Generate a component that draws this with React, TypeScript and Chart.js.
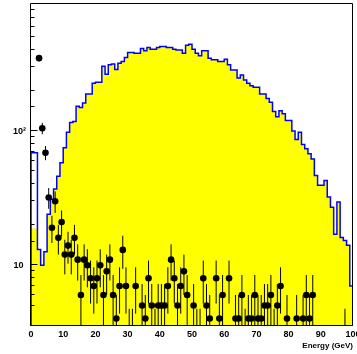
import React, { useEffect, useRef } from "react";
import { Chart, registerables } from "chart.js";

Chart.register(...registerables);

// ---- axis ranges ----
const X_MIN = 0;
const X_MAX = 100;
const BIN_WIDTH = 1;
const Y_MIN = 3.52;
const Y_MAX = 887;
const X_TITLE = "Energy (GeV)";

// ---- simulated spectrum (blue outline), one value per 1 GeV bin ----
const simulated = [
  69, 69, 13.1, 10, 12.6, 24, 31, 37, 46, 58,
  75, 98, 116, 118, 153, 150, 162, 189, 189, 227,
  231, 231, 305, 266, 313, 316, 288, 321, 331, 354,
  386, 386, 381, 381, 413, 397, 420, 408, 408, 420,
  427, 427, 420, 420, 408, 402, 402, 380, 437, 445,
  408, 381, 364, 397, 397, 350, 340, 340, 330, 330,
  344, 312, 285, 285, 249, 262, 240, 227, 218, 212,
  212, 189, 189, 175, 164, 140, 128, 142, 135, 120,
  120, 100, 86.5, 98, 79.4, 73.8, 67.7, 62, 46.7, 39.4,
  39.4, 42.9, 32.2, 27.1, 17, 29.6, 16.1, 15.3, 14.1, 7,
];

// ---- filled (yellow) spectrum: differs from the outline in the first bins ----
const filledFirstBins = [18.8, 18.8];

// ---- measured counts (black points, sqrt(N) errors); null = empty bin ----
const measured = [
  null, null, 350, 105, 69, 32, 19, 30, 16, 21,
  12, 14, 12, 16, 11, 6, 11, 10, 8, 7,
  8, 10, 6, 9, 11, 6, 4, 7, 13, 7,
  3, 3, 7, null, 5, 4, 8, 5, 3, 5,
  5, 5, 7, 11, 8, 5, 7, 9, 6, null,
  5, 3, 3, 8, 5, 4, null, 8, 4, 6,
  null, 8, null, 4, 4, 6, 3, 4, 4, 6,
  4, 4, 5, 5, 6, 3, 5, 7, null, 4,
  null, null, 4, null, 4, 6, 4, 6, null, null,
  null, null, null, null, null, null, null, 3, null, null,
];

const FLOOR = 1; // below the axis minimum, used to close the histogram outline

function stepPoints(values: number[]) {
  const pts: { x: number; y: number }[] = [{ x: X_MIN, y: FLOOR }];
  values.forEach((v, i) => pts.push({ x: X_MIN + i * BIN_WIDTH, y: v }));
  const end = X_MIN + values.length * BIN_WIDTH;
  pts.push({ x: end, y: values[values.length - 1] });
  pts.push({ x: end, y: FLOOR });
  return pts;
}

const FONT = "'Liberation Sans', Arial, Helvetica, sans-serif";

const rootStyle = {
  id: "rootStyle",
  afterDatasetsDraw(chart: any) {
    const { ctx, chartArea: a, scales } = chart;
    const xs = scales.x;
    const ys = scales.y;
    ctx.save();
    ctx.beginPath();
    ctx.rect(a.left, a.top, a.right - a.left, a.bottom - a.top);
    ctx.clip();
    ctx.strokeStyle = "#000";
    ctx.lineWidth = 1;
    measured.forEach((n, i) => {
      if (n == null) return;
      const e = Math.sqrt(n);
      const px = xs.getPixelForValue(X_MIN + (i + 0.5) * BIN_WIDTH);
      const top = ys.getPixelForValue(n + e);
      const lo = n - e > 0 ? ys.getPixelForValue(n - e) : a.bottom + 5;
      ctx.beginPath();
      ctx.moveTo(px, top);
      ctx.lineTo(px, lo);
      ctx.stroke();
    });
    ctx.restore();
  },
  afterDraw(chart: any) {
    const { ctx, chartArea: a, scales } = chart;
    const ys = scales.y;
    ctx.save();
    ctx.strokeStyle = "#000";
    ctx.lineWidth = 1;
    const L = Math.round(a.left) - 0.5;
    const T = Math.round(a.top) - 0.5;
    const B = Math.round(a.bottom) - 0.5;
    const R = Math.round(a.right) - 0.5;
    ctx.beginPath();
    ctx.moveTo(L, B);
    ctx.lineTo(L, T);
    ctx.lineTo(R, T);
    ctx.lineTo(R, B);
    ctx.lineTo(L, B);
    ctx.stroke();
    // y tick marks (inside the frame)
    ys.ticks.forEach((t: any) => {
      const v = t.value;
      const lg = Math.log10(v);
      const major = Math.abs(lg - Math.round(lg)) < 1e-6;
      const py = Math.round(ys.getPixelForValue(v)) - 0.5;
      if (py < a.top || py > a.bottom) return;
      ctx.beginPath();
      ctx.moveTo(L, py);
      ctx.lineTo(L + (major ? 7 : 4), py);
      ctx.stroke();
    });
    ctx.restore();
  },
};

export default function App() {
  const ref = useRef<HTMLCanvasElement | null>(null);

  useEffect(() => {
    if (!ref.current) return;
    const filled = [...filledFirstBins, ...simulated.slice(filledFirstBins.length)];
    const points = measured
      .map((n, i) => (n == null ? null : { x: X_MIN + (i + 0.5) * BIN_WIDTH, y: n }))
      .filter((p) => p !== null);

    const chart = new Chart(ref.current, {
      type: "scatter",
      data: {
        datasets: [
          {
            type: "line",
            data: stepPoints(filled),
            stepped: "before",
            fill: "start",
            backgroundColor: "#ffff00",
            borderWidth: 0,
            pointRadius: 0,
            order: 3,
          } as any,
          {
            type: "line",
            data: stepPoints(simulated),
            stepped: "before",
            fill: false,
            borderColor: "#0000ff",
            borderWidth: 1.5,
            pointRadius: 0,
            order: 2,
          } as any,
          {
            type: "scatter",
            data: points,
            pointRadius: 3.3,
            pointBackgroundColor: "#000",
            pointBorderWidth: 0,
            order: 1,
          } as any,
        ],
      },
      options: {
        responsive: false,
        animation: false,
        devicePixelRatio: 1,
        layout: { padding: { top: 3, right: 4, left: 0, bottom: 0 } },
        plugins: { legend: { display: false }, tooltip: { enabled: false } },
        scales: {
          x: {
            type: "linear",
            min: X_MIN,
            max: X_MAX,
            grid: { display: false, drawTicks: false },
            border: { display: false },
            ticks: {
              stepSize: 10,
              maxRotation: 0,
              autoSkip: false,
              padding: 3,
              color: "#000",
              font: { family: FONT, size: 9, weight: "bold" },
            },
            title: {
              display: true,
              text: X_TITLE,
              align: "end",
              color: "#000",
              font: { family: FONT, size: 8, weight: "bold" },
              padding: { top: 0, bottom: 3 },
            },
            afterFit(s: any) {
              s.height = 28;
              s.paddingLeft = 0;
              s.paddingRight = 0;
            },
          },
          y: {
            type: "logarithmic",
            min: Y_MIN,
            max: Y_MAX,
            grid: { display: false, drawTicks: false },
            border: { display: false },
            ticks: {
              autoSkip: false,
              padding: 5,
              color: "#000",
              font: { family: FONT, size: 9, weight: "bold" },
              callback: (v: any) => (v === 10 ? "10\u2008" : v === 100 ? "10\u00b2" : ""),
            },
            afterFit(s: any) {
              s.width = 31;
              s.paddingTop = 0;
              s.paddingBottom = 0;
            },
          },
        },
      },
      plugins: [rootStyle],
    } as any);
    return () => chart.destroy();
  }, []);

  return (
    <div style={{ position: "absolute", left: 0, top: 0, width: 357, height: 354, background: "#fff" }}>
      <canvas ref={ref} width={357} height={354} />
    </div>
  );
}
